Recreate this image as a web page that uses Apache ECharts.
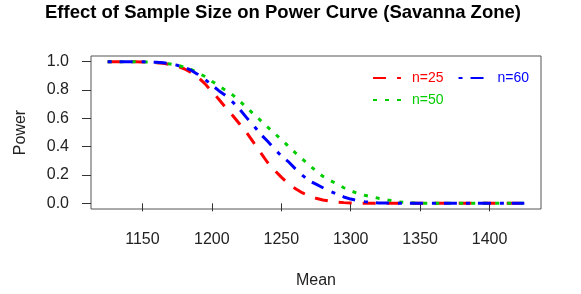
<!DOCTYPE html>
<html>
<head>
<meta charset="utf-8">
<script src="https://cdn.jsdelivr.net/npm/echarts@6/dist/echarts.min.js"></script>
<style>
  html, body { margin: 0; padding: 0; background: #fff; }
  #power_chart { width: 581px; height: 294px; }
</style>
</head>
<body>
<div id="power_chart"></div>
<script type="text/javascript">
// x grid (mean)
var means = [1125, 1130, 1135, 1140, 1145, 1150, 1155, 1160, 1165, 1170,
  1175, 1180, 1185, 1190, 1195, 1200, 1205, 1210, 1215, 1220,
  1225, 1230, 1235, 1240, 1245, 1250, 1255, 1260, 1265, 1270,
  1275, 1280, 1285, 1290, 1295, 1300, 1305, 1310, 1315, 1320,
  1325, 1330, 1335, 1340, 1345, 1350, 1355, 1360, 1365, 1370,
  1375, 1380, 1385, 1390, 1395, 1400, 1405, 1410, 1415, 1420, 1425];

// power, n=25
var power25 = [1.000, 1.000, 1.000, 1.000, 0.999, 0.998, 0.996, 0.993, 0.988, 0.980,
  0.968, 0.950, 0.925, 0.890, 0.845, 0.790, 0.735, 0.675, 0.620, 0.560,
  0.500, 0.430, 0.360, 0.290, 0.235, 0.185, 0.140, 0.105, 0.075, 0.052,
  0.036, 0.024, 0.015, 0.009, 0.005, 0.003, 0.002, 0.001, 0, 0,
  0, 0, 0, 0, 0, 0, 0, 0, 0, 0,
  0, 0, 0, 0, 0, 0, 0, 0, 0, 0, 0];

// power, n=50
var power50 = [1.000, 1.000, 1.000, 1.000, 0.999, 0.998, 0.997, 0.995, 0.990, 0.984,
  0.975, 0.962, 0.945, 0.922, 0.895, 0.862, 0.830, 0.797, 0.765, 0.722,
  0.678, 0.630, 0.586, 0.540, 0.495, 0.450, 0.405, 0.358, 0.314, 0.272,
  0.228, 0.190, 0.162, 0.137, 0.110, 0.088, 0.071, 0.057, 0.047, 0.036,
  0.027, 0.018, 0.010, 0.006, 0.003, 0.001, 0, 0, 0, 0,
  0, 0, 0, 0, 0, 0, 0, 0, 0, 0, 0];

// power, n=60
var power60 = [1.000, 1.000, 1.000, 1.000, 1.000, 0.999, 0.998, 0.996, 0.992, 0.985,
  0.975, 0.960, 0.940, 0.910, 0.875, 0.835, 0.795, 0.760, 0.715, 0.665,
  0.605, 0.550, 0.490, 0.440, 0.385, 0.335, 0.295, 0.245, 0.200, 0.160,
  0.135, 0.110, 0.085, 0.065, 0.045, 0.030, 0.020, 0.012, 0.006, 0.003,
  0.002, 0.001, 0, 0, 0, 0, 0, 0, 0, 0,
  0, 0, 0, 0, 0, 0, 0, 0, 0, 0, 0];

var xTicks = [1150, 1200, 1250, 1300, 1350, 1400];
var yTicks = [0, 0.2, 0.4, 0.6, 0.8, 1.0];

var FONT = "'Liberation Sans', Arial, sans-serif";

function pairs(ys) {
  var list = [];
  for (var i = 0; i < means.length; i++) {
    list.push([means[i], ys[i]]);
  }
  return list;
}

function lineSeries(name, ys, color, dash) {
  return {
    name: name,
    type: 'line',
    data: pairs(ys),
    symbol: 'none',
    smooth: false,
    animation: false,
    lineStyle: { color: color, width: 3, type: dash, cap: 'butt' },
    itemStyle: { color: color }
  };
}

var chart = echarts.init(document.getElementById('power_chart'));

var legendBase = {
  orient: 'horizontal',
  padding: 0,
  itemWidth: 28,
  itemHeight: 14,
  itemGap: 14,
  itemStyle: { opacity: 0 },
  textStyle: { fontFamily: FONT, fontSize: 14, padding: [0, 0, 0, 6] }
};

var options = {
  backgroundColor: '#fff',
  animation: false,
  title: {
    text: 'Effect of Sample Size on Power Curve (Savanna Zone)',
    left: 45,
    top: 3,
    padding: 0,
    textStyle: { fontFamily: FONT, fontSize: 18.5, fontWeight: 'bold', color: '#000' }
  },
  legend: [
    Object.assign({}, legendBase, {
      left: 372, top: 71,
      data: [
        { name: 'n=25', textStyle: { color: '#ff0000' } },
        { name: 'n=60', textStyle: { color: '#0000ff' } }
      ]
    }),
    Object.assign({}, legendBase, {
      left: 372, top: 93,
      data: [
        { name: 'n=50', textStyle: { color: '#00cd00' } }
      ]
    })
  ],
  grid: {
    left: 91, top: 56, right: 40, bottom: 85,
    show: true, borderColor: '#555', borderWidth: 1,
    containLabel: false
  },
  xAxis: {
    type: 'value',
    min: 1113, max: 1437,
    name: 'Mean',
    nameLocation: 'middle',
    nameGap: 64,
    nameTextStyle: { fontFamily: FONT, fontSize: 16, color: '#222' },
    axisLine: { show: false },
    splitLine: { show: false },
    axisTick: { show: true, length: 8, customValues: xTicks, lineStyle: { color: '#333' } },
    axisLabel: {
      customValues: xTicks, margin: 23, fontFamily: FONT, fontSize: 16, color: '#222',
      formatter: function (v) { return String(v); }
    }
  },
  yAxis: {
    type: 'value',
    min: -0.04, max: 1.04,
    name: 'Power',
    nameLocation: 'middle',
    nameGap: 62,
    nameTextStyle: { fontFamily: FONT, fontSize: 16, color: '#222' },
    axisLine: { show: false },
    splitLine: { show: false },
    axisTick: { show: true, length: 9, customValues: yTicks, lineStyle: { color: '#333' } },
    axisLabel: {
      customValues: yTicks, margin: 22, fontFamily: FONT, fontSize: 16, color: '#222',
      formatter: function (v) { return v.toFixed(1); }
    }
  },
  series: [
    lineSeries('n=25', power25, '#ff0000', [13, 11]),
    lineSeries('n=50', power50, '#00cd00', [4, 8]),
    lineSeries('n=60', power60, '#0000ff', [4, 8, 13, 9])
  ]
};
chart.setOption(options);
</script>
</body>
</html>
